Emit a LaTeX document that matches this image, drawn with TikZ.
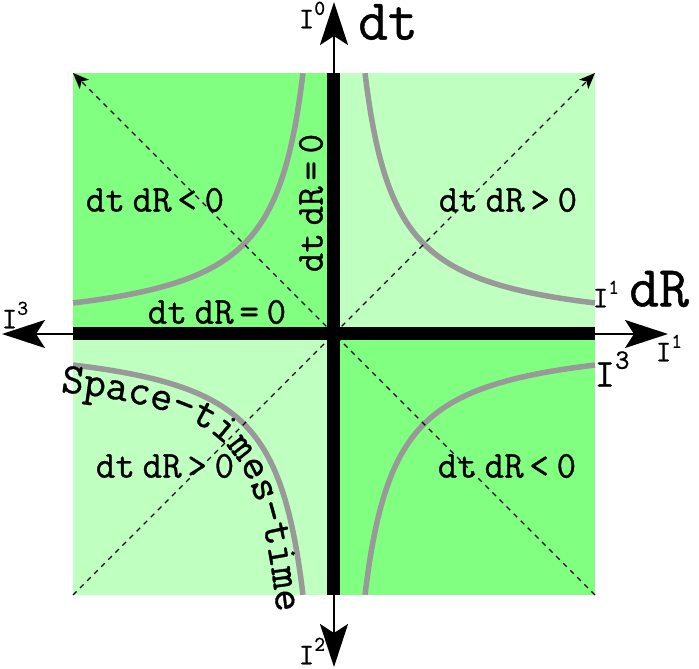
\documentclass[tikz,border=0pt]{standalone}
\usepackage{fontspec}
\usetikzlibrary{arrows.meta,decorations.text}
\newfontfamily\labfont{Latin Modern Mono}[FakeBold=0.8]
\definecolor{darkq}{HTML}{80FF80}
\definecolor{lightq}{HTML}{BFFFBF}
\definecolor{hyper}{HTML}{999999}
\newcommand{\prodlab}[1]{dt\hspace{.2em}dR\hspace{.15em}#1\hspace{.2em}0}
\newcommand{\Isup}[2]{I\raisebox{.45em}{\fontsize{#2}{#2}\selectfont #1}}

\begin{document}
\begin{tikzpicture}[
  x=1pt, y=1pt,
  qlab/.style={font=\fontsize{38}{38}\selectfont\labfont, inner sep=0pt},
  axlab/.style={font=\fontsize{58}{58}\selectfont\labfont, inner sep=0pt},
  ilab/.style={font=\fontsize{30}{30}\selectfont\labfont, inner sep=0pt},
  thinaxis/.style={-{Stealth[length=43pt, width=28pt, inset=9pt]}, line width=2.2pt},
  thickaxis/.style={line width=13pt},
  diag/.style={-{Stealth[length=16pt, width=13pt, inset=4pt]}, dash pattern=on 5pt off 5pt, line width=1.2pt},
  hyp/.style={hyper, line width=5.5pt}
]
  \useasboundingbox (-334,-335) rectangle (365,334);

  \coordinate (O) at (0,0);
  \coordinate (NW) at (-261,261);
  \coordinate (NE) at (261,261);
  \coordinate (SW) at (-261,-261);
  \coordinate (SE) at (261,-261);
  \coordinate (N) at (0,261);
  \coordinate (S) at (0,-261);
  \coordinate (W) at (-261,0);
  \coordinate (E) at (261,0);
  \coordinate (Ntip) at (0,332);
  \coordinate (Stip) at (0,-333);
  \coordinate (Wtip) at (-332,0);
  \coordinate (Etip) at (334,0);

  % quadrants
  \fill[darkq] (NW) rectangle (O);
  \fill[lightq] (NE) rectangle (O);
  \fill[lightq] (SW) rectangle (O);
  \fill[darkq] (SE) rectangle (O);

  % hyperbolas dt dR = const
  \foreach \sx/\sy in {1/1,-1/1,-1/-1,1/-1}
    \draw[hyp] plot[domain=-1.0647:1.0647, samples=80, smooth, variable=\s]
      ({\sx*90*exp(-\s)}, {\sy*90*exp(\s)});

  % light cone
  \draw[diag] (SW) -- (NE);
  \draw[diag] (SE) -- (NW);

  % axes
  \draw[thinaxis] (N) -- (Ntip);
  \draw[thinaxis] (S) -- (Stip);
  \draw[thinaxis] (W) -- (Wtip);
  \draw[thinaxis] (E) -- (Etip);
  \draw[thickaxis] (N) -- (S);
  \draw[thickaxis] (W) -- (E);

  \node[qlab] (tl) at (-179,134) {\prodlab{<}};
  \node[qlab] (tr) at (174,134) {\prodlab{>}};
  \node[qlab] (bl) at (-169,-132) {\prodlab{>}};
  \node[qlab] (br) at (173,-132) {\prodlab{<}};
  \node[qlab] (hzero) at (-117,22) {\prodlab{=}};
  \node[qlab, rotate=90] (vzero) at (-23,131) {\prodlab{=}};

  \node[axlab] (dtlab) at (54,312) {dt};
  \node[axlab] (dRlab) at (325,45) {dR};

  \node[ilab] (i0) at (-22,319) {\Isup{0}{21}};
  \node[ilab] (i3w) at (-319,19) {\Isup{3}{21}};
  \node[ilab] (i1e) at (335,-14) {\Isup{1}{21}};
  \node[ilab] (i1d) at (272,40) {\Isup{1}{21}};
  \node[ilab] (i2) at (-22,-317) {\Isup{2}{21}};
  \node[ilab, font=\fontsize{40}{40}\selectfont\labfont] (i3e) at (278,-35) {\Isup{3}{28}};

  % curved label
  \path[decorate, decoration={text along path, text align=left,
      text={|\fontsize{43}{43}\selectfont\labfont|Space-times-time}}]
    plot[domain=-1.1:1.2, samples=120, variable=\s]
      ({-(90*exp(-\s) + 28*exp(\s)/veclen(exp(-\s),exp(\s)))},
       {-(90*exp(\s) + 28*exp(-\s)/veclen(exp(-\s),exp(\s)))});
\end{tikzpicture}
\end{document}
